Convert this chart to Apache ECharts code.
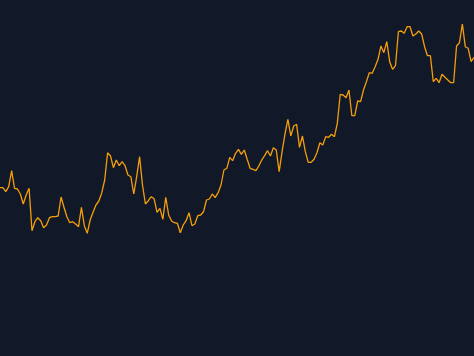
<!DOCTYPE html>
<html>
<head>
<meta charset="utf-8">
<script src="https://cdn.jsdelivr.net/npm/echarts@6/dist/echarts.min.js"></script>
<style>
html,body{margin:0;padding:0;background:#111827;}
#chart{width:474px;height:356px;}
</style>
</head>
<body>
<div id="chart"></div>
<script>
const values = [
168.3,168.3,164.3,169.3,185.3,167.7,167,162,152,161,
167.7,125.3,134.3,138.3,135.3,128.3,131,138.3,139.3,139.3,
140,159,148.7,139.3,133.3,134.3,132,129.3,148.7,130.3,
122.7,136,143.7,151,155,163.3,176,203.3,200,188.3,
196,190.3,194.3,190.3,181,179.3,162,179.3,199.3,171,
152,155.3,159.3,157.3,143.7,147.7,136.7,158.7,141,135,
133.3,132.7,123.3,131,135.3,143.3,130.3,132,140.3,141,
144.3,156,157,162,158.3,163.3,171,186,187.7,198.7,
195.3,202.7,206.7,201.7,206,196.7,187.7,186.7,185.3,190,
196,200.3,205.3,200,208.3,206,184.3,204.3,222,236.7,
220,230,231.7,208.7,220,204.3,193.7,193.7,196.7,203.3,
213.3,211,219.3,218.7,221.7,219.3,232.7,261.7,261,258.3,
266,240.3,240.3,255,254.3,266,274.3,283.3,282.7,289.3,
296.7,310,303.3,314.3,294.3,286.7,290.3,324.3,325,322.7,
329.3,329.3,320,322,325,322,309.3,300.3,300.3,274.3,
277.7,273.3,281.7,278.7,276,273.3,273.3,310,313.3,332,
309.3,307.7,294.3,298.7
];
const categories = values.map((v, i) => String(i + 1));

const chart = echarts.init(document.getElementById('chart'), null, {renderer: 'canvas'});
chart.setOption({
  backgroundColor: '#111827',
  animation: false,
  grid: {left: 0, right: 0, top: 0, bottom: 0},
  xAxis: {
    type: 'category',
    data: categories,
    boundaryGap: false,
    show: false
  },
  yAxis: {
    type: 'value',
    min: 0,
    max: 356,
    show: false
  },
  series: [{
    type: 'line',
    data: values,
    showSymbol: false,
    lineStyle: {color: '#f59e0b', width: 1.3},
    itemStyle: {color: '#f59e0b'}
  }]
});
</script>
</body>
</html>
